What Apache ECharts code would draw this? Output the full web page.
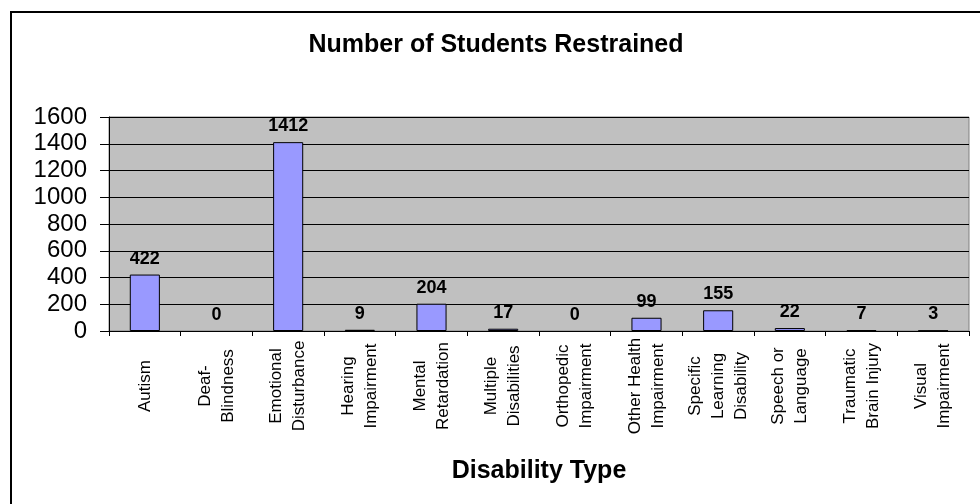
<!DOCTYPE html>
<html>
<head>
<meta charset="utf-8">
<script src="https://cdn.jsdelivr.net/npm/echarts@6/dist/echarts.min.js"></script>
<style>
html,body{margin:0;padding:0;background:#fff;}
#chart{width:980px;height:504px;}
</style>
</head>
<body>
<div id="chart"></div>
<script>
var categories = ["Autism", "Deaf-\nBlindness", "Emotional\nDisturbance", "Hearing\nImpairment", "Mental\nRetardation", "Multiple\nDisabilities", "Orthopedic\nImpairment", "Other Health\nImpairment", "Specific\nLearning\nDisability", "Speech or\nLanguage", "Traumatic\nBrain Injury", "Visual\nImpairment"];
var studentsRestrained = [422, 0, 1412, 9, 204, 17, 0, 99, 155, 22, 7, 3];
var yTicks = [0, 200, 400, 600, 800, 1000, 1200, 1400, 1600];
var chartTitle = "Number of Students Restrained";
var xAxisTitle = "Disability Type";

var FONT = 'Arial, "Liberation Sans", sans-serif';
var chart = echarts.init(document.getElementById('chart'), null, {renderer: 'canvas'});
var grid = {left: 109, right: 11, top: 117, bottom: 173};
var barData = studentsRestrained.map(function (v) {
  return v === 0 ? {value: v, itemStyle: {borderWidth: 0}} : v;
});
var option = {
  animation: false,
  backgroundColor: '#fff',
  grid: {left: grid.left, right: grid.right, top: grid.top, bottom: grid.bottom, show: true, backgroundColor: '#C0C0C0', borderColor: '#808080', borderWidth: 1},
  xAxis: {
    type: 'category',
    data: categories,
    axisLine: {show: true, lineStyle: {color: '#000', width: 1}},
    axisTick: {show: true, length: 5, lineStyle: {color: '#000'}},
    axisLabel: {rotate: 90, align: 'center', verticalAlign: 'middle', margin: 55, lineHeight: 23, fontSize: 17, color: '#000', fontFamily: FONT, interval: 0}
  },
  yAxis: {
    type: 'value',
    min: yTicks[0],
    max: yTicks[yTicks.length - 1],
    interval: yTicks[1] - yTicks[0],
    axisLine: {show: true, lineStyle: {color: '#000', width: 1}},
    axisTick: {show: true, length: 9, lineStyle: {color: '#000'}},
    axisLabel: {margin: 22, fontSize: 24, color: '#000', fontFamily: FONT, formatter: function (v) { return String(v); }},
    splitLine: {show: true, lineStyle: {color: '#000', width: 1}}
  },
  series: [{
    type: 'bar',
    data: barData,
    barWidth: '42%',
    itemStyle: {color: '#9999FF', borderColor: '#000', borderWidth: 1},
    label: {show: true, position: 'top', distance: 7, fontSize: 18, fontWeight: 'bold', color: '#000', fontFamily: FONT}
  }],
  graphic: [
    {type: 'rect', shape: {x: 11, y: 12, width: 1000, height: 600}, style: {fill: 'none', stroke: '#000', lineWidth: 2}, silent: true},
    {type: 'text', x: 496, y: 45, style: {text: chartTitle, textAlign: 'center', textVerticalAlign: 'middle', font: 'bold 25px ' + FONT, fill: '#000'}},
    {type: 'text', x: 539, y: 471, style: {text: xAxisTitle, textAlign: 'center', textVerticalAlign: 'middle', font: 'bold 25px ' + FONT, fill: '#000'}}
  ]
};
chart.setOption(option);
</script>
</body>
</html>
